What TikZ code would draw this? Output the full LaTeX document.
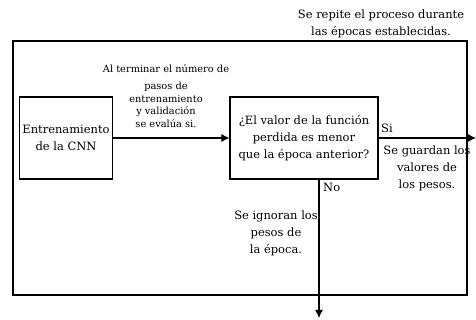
\documentclass[tikz,border=0pt]{standalone}
\usepackage{fontspec}
\setmainfont{DejaVu Serif}
\usetikzlibrary{arrows.meta,positioning}
\tikzset{
  stepbox/.style = {draw, line width=0.9pt, minimum width=2.79cm, minimum height=2.46cm,
                    align=center, font=\fontsize{9.8}{14.5}\selectfont, inner sep=1pt},
  flow/.style    = {line width=0.9pt, -{Latex[length=2.4mm,width=2.4mm]}},
  note/.style    = {align=center, font=\fontsize{9.8}{14.5}\selectfont, inner sep=0pt},
  smallnote/.style = {align=center, font=\fontsize{8.4}{10.6}\selectfont, inner sep=0pt},
}

\begin{document}
\begin{tikzpicture}[x=0.03cm,y=-0.03cm]
  \useasboundingbox (0,0) rectangle (476,320);
  % loop frame
  \draw[line width=0.9pt] (13,41) rectangle (467,295);
  \node[note, anchor=south] (loop) at (381,38)
    {Se repite el proceso durante\\las épocas establecidas.};
  % boxes
  \node[stepbox] (cnn) at (66,138) {Entrenamiento\\de la CNN};
  \node[stepbox, minimum width=4.44cm] (eval) at (304,138)
    {¿El valor de la función\\perdida es menor\\que la época anterior?};
  \coordinate (out) at (476,138);
  \coordinate (down) at (319,318);
  % connectors
  \draw[flow] (cnn) -- (eval);
  \draw[flow] (eval) -- (out);
  \draw[flow] (down |- eval.south) -- (down);
  % labels
  \node[smallnote] (epoch) at (166,96)
    {Al terminar el número de\\[4pt]pasos de\\entrenamiento\\y validación\\se evalúa si.};
  \node[note, anchor=south west] (yes) at (381,133) {Si};
  \node[note] (keep) at (427,168) {Se guardan los\\valores de\\los pesos.};
  \node[note, anchor=north west] (no) at (323,183) {No};
  \node[note] (drop) at (276,233) {Se ignoran los\\pesos de\\la época.};
\end{tikzpicture}
\end{document}
